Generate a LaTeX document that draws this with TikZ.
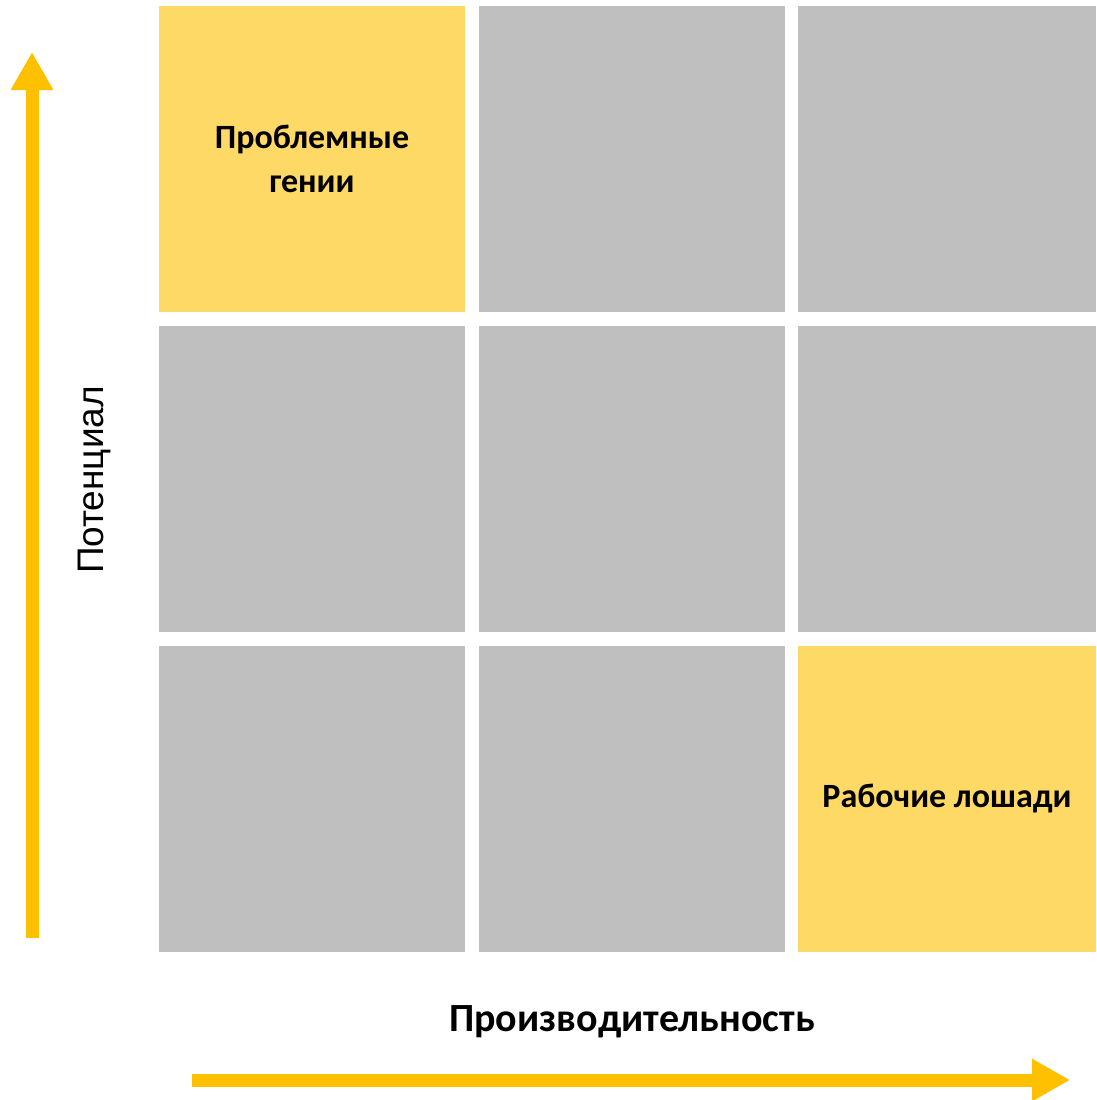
\documentclass[tikz,border=0pt]{standalone}
\usepackage{fontspec}
\setmainfont{Carlito}
\newfontfamily\axisfont{Liberation Sans}
\usetikzlibrary{arrows.meta}

\definecolor{cellgray}{HTML}{BFBFBF}
\definecolor{cellyellow}{HTML}{FFD966}
\definecolor{arrowgold}{HTML}{FFC000}

\tikzset{
  cell/.style={rectangle,fill=cellgray,inner sep=0pt,minimum width=306pt,minimum height=306pt,
    align=center,font=\bfseries\fontsize{34}{44}\selectfont},
  hotcell/.style={cell,fill=cellyellow},
  axisarrow/.style={draw=arrowgold,line width=13pt,-{Triangle[length=38pt,width=40pt]}}
}

\begin{document}
\begin{tikzpicture}[x=1pt,y=-1pt]
\useasboundingbox (0,0) rectangle (1096,1100);

% the nine boxes
\node[hotcell] (c11) at (312,159) {Проблемные\\гении};
\node[cell] (c12) at (632,159) {};
\node[cell,minimum width=298pt] (c13) at (947,159) {};
\node[cell] (c21) at (312,479) {};
\node[cell] (c22) at (632,479) {};
\node[cell,minimum width=298pt] (c23) at (947,479) {};
\node[cell] (c31) at (312,799) {};
\node[cell] (c32) at (632,799) {};
\node[hotcell,minimum width=298pt] (c33) at (947,799) {Рабочие лошади};

% axes
\coordinate (ybot) at (32,938);
\coordinate (ytop) at (32,52);
\coordinate (xleft) at (192,1080);
\coordinate (xright) at (1070,1080);
\draw[axisarrow] (ybot) -- (ytop);
\draw[axisarrow] (xleft) -- (xright);

\node[rotate=90,font=\axisfont\fontsize{37}{44}\selectfont] (potential) at (94,480) {Потенциал};
\node[font=\bfseries\fontsize{40}{48}\selectfont] (output) at (632,1022) {Производительность};

\end{tikzpicture}
\end{document}
